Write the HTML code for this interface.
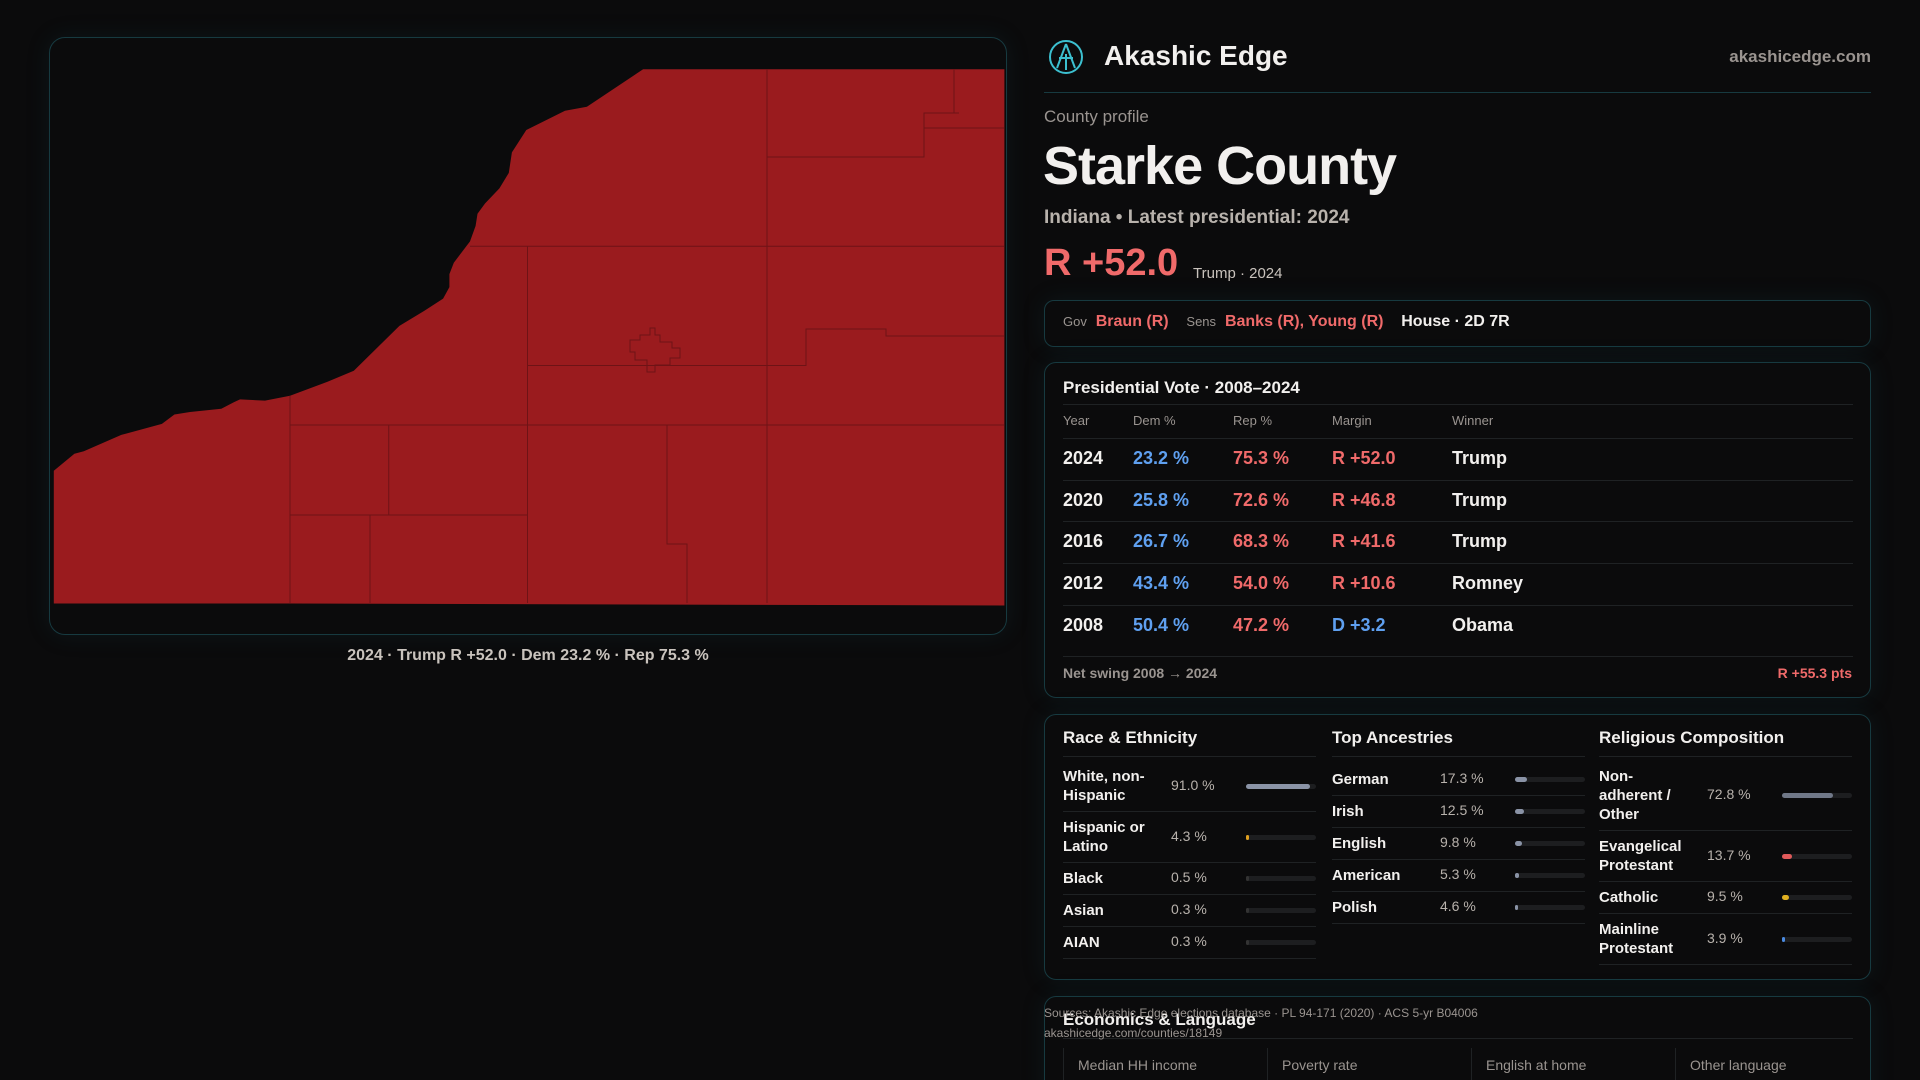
<!DOCTYPE html>
<html><head><meta charset="utf-8"><style>
*{box-sizing:border-box;margin:0;padding:0}
html{overflow:hidden;width:1920px;height:1080px}
body{width:1920px;height:1080px;background:#0b0b0c;font-family:"Liberation Sans",sans-serif;color:#f2f0ee;position:relative;overflow:hidden}
.abs{position:absolute;white-space:nowrap}
.panel{position:absolute;border:1px solid #173a40;border-radius:16px;background:#0b0b0c;box-shadow:0 0 24px rgba(30,90,100,.15)}
.muted{color:#9a9490}
.red{color:#f06a6a}.blue{color:#5fa0f0}
.hdr{font-size:13px;color:#9a9490}
.row{font-size:18px;font-weight:bold}
.line{position:absolute;height:1px;background:#1f2224}
.track{position:absolute;height:5px;border-radius:3px;background:#1d1e20}
.fill{position:absolute;left:0;top:0;height:5px;border-radius:3px}
.lbl{font-size:15px;font-weight:bold;line-height:19px}
.val{font-size:14px;color:#b8b2ac}
</style></head><body>
<div class="panel" style="left:49px;top:37px;width:958px;height:598px"></div>
<svg class="abs" width="1920" height="1080" style="left:0;top:0">
<polygon fill="#9a1b1e" points="53.8,470.8 74.4,453.7 83.8,451.2 121.3,434.9 161.9,423.9 174.4,414.5 190,412 221.3,408.8 233.8,402.2 240,399.4 265,400.6 290,395.7 327.5,381.8 353.8,370.8 399.4,325.9 424.4,310.8 443.1,298.6 449.4,287.1 449.4,274.1 453.8,262.7 470,241.4 475.6,225.9 477.5,213.7 485,203.5 499.4,188.4 508.8,172.9 511.9,152.4 526.3,130 565,110.8 586.9,106.7 643.1,69.2 1004.4,69.2 1004.4,605.5 290,603.5 53.8,603.5"/>
<g stroke="#6e1316" stroke-width="1" fill="none">
<path d="M470 246.3H1004 M290 425H1004 M527.5 246V603 M767 69V603 M290 395.7V603 M290 515H527 M388.75 425V515 M370 515V603 M667 425V544H687V603 M767 157H924V113H959 M924 128H1004 M954 69V113 M527 365.5H806V329H886V336H1004"/>
<path d="M630 340H640V335H650V328H655V335H660V342H672V348H680V358H670V365H655V372H647V360H635V352H630Z"/>
</g>
</svg>
<div class="abs" style="left:528px;top:647px;transform:translateX(-50%);font-size:16px;font-weight:bold;color:#c9c3bd">2024 · Trump R +52.0 · Dem 23.2 % · Rep 75.3 %</div>

<svg class="abs" width="38" height="38" style="left:1047px;top:38px"><circle cx="19" cy="19" r="16" fill="none" stroke="#3cc0d0" stroke-width="2"/><path d="M19 6L10 30M19 6L28 30M12 20H26M19 16V32" stroke="#3cc0d0" stroke-width="2" fill="none"/></svg>
<div class="abs" style="left:1104px;top:40px;font-size:28px;font-weight:bold">Akashic Edge</div>
<div class="abs muted" style="right:49px;top:47px;font-size:17px;font-weight:bold">akashicedge.com</div>
<div class="line" style="left:1044px;top:92px;width:827px;background:#173a40"></div>
<div class="abs muted" style="left:1044px;top:107px;font-size:17px">County profile</div>
<div class="abs" style="left:1043px;top:135px;font-size:54px;font-weight:bold;letter-spacing:-1px">Starke County</div>
<div class="abs muted" style="left:1044px;top:207px;font-size:19px;font-weight:bold;color:#b8b2ac">Indiana • Latest presidential: 2024</div>
<div class="abs red" style="left:1044px;top:242px;font-size:38px;font-weight:bold">R +52.0</div>
<div class="abs" style="left:1193px;top:265px;font-size:15px;color:#c9c3bd">Trump · 2024</div>

<div class="panel" style="left:1044px;top:300px;width:827px;height:47px;border-radius:10px"></div>
<div class="abs" style="left:1063px;top:313px;font-size:16px;font-weight:bold"><span class="muted" style="font-size:13px;font-weight:normal">Gov</span>&nbsp; <span class="red">Braun (R)</span>&nbsp;&nbsp;&nbsp; <span class="muted" style="font-size:13px;font-weight:normal">Sens</span>&nbsp; <span class="red">Banks (R), Young (R)</span>&nbsp;&nbsp;&nbsp; House · 2D 7R</div>

<div class="panel" style="left:1044px;top:362px;width:827px;height:336px;border-radius:12px"></div>
<div class="abs" style="left:1063px;top:378px;font-size:17px;font-weight:bold">Presidential Vote · 2008–2024</div>
<div id="ptable"></div>
<div class="line" style="left:1063px;top:656px;width:790px"></div>
<div class="abs muted" style="left:1063px;top:665px;font-size:14px;font-weight:bold">Net swing 2008 → 2024</div>
<div class="abs red" style="right:68px;top:665px;font-size:14px;font-weight:bold">R +55.3 pts</div>

<div class="panel" style="left:1044px;top:714px;width:827px;height:266px;border-radius:12px"></div>
<div id="demo"></div>

<div class="panel" style="left:1044px;top:996px;width:827px;height:120px;border-radius:12px"></div>
<div class="abs" style="left:1063px;top:1010px;font-size:17px;font-weight:bold">Economics &amp; Language</div>
<div class="line" style="left:1063px;top:1038px;width:790px"></div>
<div id="econ"></div>
<div class="abs muted" style="left:1044px;top:1006px;font-size:12px">Sources: Akashic Edge elections database · PL 94-171 (2020) · ACS 5-yr B04006</div>
<div class="abs muted" style="left:1044px;top:1026px;font-size:12px">akashicedge.com/counties/18149</div>

<script>
const years=["2024","2020","2016","2012","2008"];
const demPct=[23.2,25.8,26.7,43.4,50.4];
const repPct=[75.3,72.6,68.3,54.0,47.2];
const margins=[52.0,46.8,41.6,10.6,-3.2];
const winners=["Trump","Trump","Trump","Romney","Obama"];
const raceLabels=["White, non-<br>Hispanic","Hispanic or<br>Latino","Black","Asian","AIAN"];
const raceVals=[91.0,4.3,0.5,0.3,0.3];
const ancLabels=["German","Irish","English","American","Polish"];
const ancVals=[17.3,12.5,9.8,5.3,4.6];
const relLabels=["Non-<br>adherent /<br>Other","Evangelical<br>Protestant","Catholic","Mainline<br>Protestant"];
const relVals=[72.8,13.7,9.5,3.9];
const econLabels=["Median HH income","Poverty rate","English at home","Other language"];

function add(parent,html,style,name){const d=document.createElement('div');d.className='abs';d.innerHTML=html;d.style.cssText=style;


parent.appendChild(d);return d;}
const B=document.body;
const cols=[1063,1133,1233,1332,1452];
["Year","Dem %","Rep %","Margin","Winner"].forEach((h,i)=>add(B,h,`left:${cols[i]}px;top:413px`,'table-header-'+h.toLowerCase().replace(/\W+/g,'')).classList.add('hdr'));
add(B,'', 'left:1063px;top:404px;width:790px;height:1px;background:#1f2224','header-top-line');
years.forEach((y,i)=>{
 const top=438+i*41.7;
 add(B,'',`left:1063px;top:${top}px;width:790px;height:1px;background:#1f2224`,'row-divider');
 const cy=top+10;
 const m=margins[i];
 const mt=m>=0?`R +${m.toFixed(1)}`:`D +${(-m).toFixed(1)}`;
 const cells=[[y,''],[demPct[i].toFixed(1)+' %','blue'],[repPct[i].toFixed(1)+' %','red'],[mt,m>=0?'red':'blue'],[winners[i],'']];
 cells.forEach((c,j)=>{const d=add(B,c[0],`left:${cols[j]}px;top:${cy}px`,'cell-'+y+'-'+j);d.classList.add('row');if(c[1])d.classList.add(c[1]);});
});
function section(x,title,labels,vals,heights,colors,name,rowTop){
 add(B,title,`left:${x}px;top:728px;font-size:17px;font-weight:bold`,name+'-title');
 add(B,'',`left:${x}px;top:756px;width:253px;height:1px;background:#1f2224`,name+'-title-line');
 let y=rowTop;
 labels.forEach((l,i)=>{
  const h=heights[i];
  const lines=(l.match(/<br>/g)||[]).length+1;
  const cy=y+h/2;
  add(B,l,`left:${x}px;top:${cy-lines*9.5}px`,name+'-label').classList.add('lbl');
  add(B,vals[i].toFixed(1)+' %',`left:${x+108}px;top:${cy-9}px`,name+'-value').classList.add('val');
  const t=add(B,'',`left:${x+183}px;top:${cy-2}px;width:70px`,name+'-bar-track');t.classList.add('track');
  const f=document.createElement('div');f.className='fill';
  
  
  f.style.width=Math.max(3,vals[i]/100*70)+'px';f.style.background=colors[i];t.appendChild(f);
  y+=h;
  add(B,'',`left:${x}px;top:${y}px;width:253px;height:1px;background:#1f2224`,name+'-row-line');
 });
}
section(1063,"Race &amp; Ethnicity",raceLabels,raceVals,[51,51,32,32,32],["#8a93a6","#e0a020","#333","#333","#333"],'race',760);
section(1332,"Top Ancestries",ancLabels,ancVals,[32,32,32,32,32],["#8a93a6","#8a93a6","#8a93a6","#8a93a6","#8a93a6"],'ancestry',763);
section(1599,"Religious Composition",relLabels,relVals,[70,51,32,51],["#707888","#e05a5a","#e0b020","#4a8ae0"],'religion',760);
econLabels.forEach((l,i)=>{
 const x=1063+i*204;
 add(B,'',`left:${x}px;top:1048px;width:1px;height:40px;background:#1f2224`,'econ-col-border');
 add(B,l,`left:${x+15}px;top:1057px;font-size:14px;color:#9a9490`,'econ-label');
});
</script>
</body></html>
